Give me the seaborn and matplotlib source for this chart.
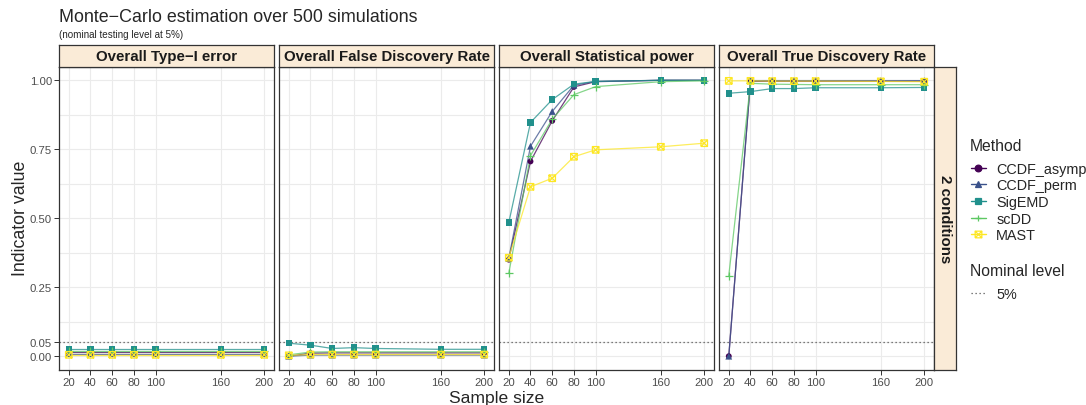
import numpy as np
import pandas as pd
import seaborn as sns
import matplotlib.pyplot as plt
from matplotlib.lines import Line2D
from matplotlib.path import Path

# ------------------------------------------------------------
# data
# ------------------------------------------------------------
sample_sizes = [20, 40, 60, 80, 100, 160, 200]
methods = ["CCDF_asymp", "CCDF_perm", "SigEMD", "scDD", "MAST"]
indicators = ["Overall Type\u2212I error", "Overall False Discovery Rate",
              "Overall Statistical power", "Overall True Discovery Rate"]

type1_asymp = [0.014, 0.014, 0.014, 0.014, 0.014, 0.014, 0.014]
type1_perm = [0.009, 0.009, 0.009, 0.009, 0.009, 0.009, 0.009]
type1_sigemd = [0.025, 0.025, 0.025, 0.025, 0.025, 0.025, 0.025]
type1_scdd = [0.019, 0.019, 0.019, 0.019, 0.019, 0.019, 0.019]
type1_mast = [0.005, 0.005, 0.005, 0.005, 0.005, 0.005, 0.005]

fdr_asymp = [0.000, 0.011, 0.012, 0.012, 0.012, 0.012, 0.012]
fdr_perm = [0.000, 0.004, 0.004, 0.004, 0.004, 0.004, 0.004]
fdr_sigemd = [0.047, 0.040, 0.028, 0.031, 0.028, 0.025, 0.025]
fdr_scdd = [0.005, 0.015, 0.016, 0.016, 0.016, 0.016, 0.016]
fdr_mast = [0.003, 0.006, 0.006, 0.006, 0.006, 0.006, 0.006]

power_asymp = [0.350, 0.706, 0.853, 0.976, 0.995, 1.000, 1.000]
power_perm = [0.354, 0.761, 0.887, 0.982, 0.996, 1.000, 1.000]
power_sigemd = [0.484, 0.847, 0.930, 0.986, 0.996, 1.000, 1.000]
power_scdd = [0.300, 0.727, 0.859, 0.948, 0.977, 0.995, 0.998]
power_mast = [0.357, 0.614, 0.645, 0.723, 0.748, 0.759, 0.772]

tdr_asymp = [0.000, 0.996, 0.996, 0.996, 0.996, 0.996, 0.996]
tdr_perm = [0.000, 0.999, 0.999, 0.999, 0.999, 0.999, 0.999]
tdr_sigemd = [0.953, 0.959, 0.970, 0.970, 0.973, 0.973, 0.974]
tdr_scdd = [0.292, 0.989, 0.986, 0.985, 0.984, 0.984, 0.984]
tdr_mast = [0.998, 0.998, 0.997, 0.997, 0.997, 0.996, 0.995]

nominal_level = 0.05

values = {
    indicators[0]: [type1_asymp, type1_perm, type1_sigemd, type1_scdd, type1_mast],
    indicators[1]: [fdr_asymp, fdr_perm, fdr_sigemd, fdr_scdd, fdr_mast],
    indicators[2]: [power_asymp, power_perm, power_sigemd, power_scdd, power_mast],
    indicators[3]: [tdr_asymp, tdr_perm, tdr_sigemd, tdr_scdd, tdr_mast],
}

rows = []
for ind in indicators:
    for m, vals in zip(methods, values[ind]):
        for n, v in zip(sample_sizes, vals):
            rows.append({"Indicator": ind, "Method": m, "n": n, "value": v})
df = pd.DataFrame(rows)

# ------------------------------------------------------------
# styles
# ------------------------------------------------------------
colors = dict(zip(methods, ["#440154", "#3B528B", "#21908C", "#5DC863", "#FDE725"]))
sq_cross = Path([(-1, -1), (1, -1), (1, 1), (-1, 1), (-1, -1),
                 (-1, -1), (1, 1), (-1, 1), (1, -1)],
                [Path.MOVETO, Path.LINETO, Path.LINETO, Path.LINETO, Path.LINETO,
                 Path.MOVETO, Path.LINETO, Path.MOVETO, Path.LINETO])
markers = dict(zip(methods, ["o", "^", "s", "+", sq_cross]))
msize = {"CCDF_asymp": 18, "CCDF_perm": 24, "SigEMD": 22, "scDD": 40, "MAST": 22}

sns.set_style("white")
plt.rcParams["font.family"] = ["Liberation Sans", "DejaVu Sans"]

W, H = 1086, 406
fig = plt.figure(figsize=(W / 100, H / 100), dpi=100)


def rect(x0, y0, x1, y1):
    return [x0 / W, 1 - y1 / H, (x1 - x0) / W, (y1 - y0) / H]


STRIP_BG = "#FAEBD7"
EDGE = "#333333"
DOTS = (0, (1, 2.2))
panel_x = [59, 279, 499, 719]
pw = 215
top, bottom = 67.5, 371

yticks = [0, 0.05, 0.25, 0.5, 0.75, 1.0]
yminor = [0.125, 0.375, 0.625, 0.875]

for i, ind in enumerate(indicators):
    x0 = panel_x[i]
    ax = fig.add_axes(rect(x0, top, x0 + pw, bottom))
    sub = df[df["Indicator"] == ind]

    for y in yticks + yminor:
        ax.axhline(y, color="#EBEBEB", lw=0.8, zorder=0)
    for x in sample_sizes:
        ax.axvline(x, color="#EBEBEB", lw=0.8, zorder=0)

    ax.axhline(nominal_level, color="#555555", lw=0.9, ls=DOTS, zorder=1)

    for m in methods:
        d = sub[sub["Method"] == m]
        sns.lineplot(data=d, x="n", y="value", color=colors[m], alpha=0.75,
                     lw=0.9, ax=ax, zorder=2)
    for m in methods:
        d = sub[sub["Method"] == m]
        if m == "MAST":
            sns.scatterplot(data=d, x="n", y="value", marker=markers[m], s=msize[m],
                            color=colors[m], facecolor="none", edgecolor=colors[m],
                            linewidth=0.9, ax=ax, zorder=3)
        elif m == "scDD":
            sns.scatterplot(data=d, x="n", y="value", marker=markers[m], s=msize[m],
                            color=colors[m], linewidth=0.9, ax=ax, zorder=3)
        else:
            sns.scatterplot(data=d, x="n", y="value", marker=markers[m], s=msize[m],
                            color=colors[m], edgecolor="none", linewidth=0,
                            ax=ax, zorder=3)

    ax.set_xlim(11, 209)
    ax.set_ylim(-0.05, 1.05)
    ax.set_xticks(sample_sizes)
    ax.set_xticklabels([str(s) for s in sample_sizes])
    ax.set_yticks(yticks)
    if i == 0:
        ax.set_yticklabels(["0.00", "0.05", "0.25", "0.50", "0.75", "1.00"])
        ax.tick_params(axis="y", length=3.5, width=0.7, color=EDGE,
                       labelsize=8.2, labelcolor="#4D4D4D", pad=1.5, left=True)
    else:
        ax.set_yticklabels([])
        ax.tick_params(axis="y", left=False)
    ax.tick_params(axis="x", length=3.5, width=0.7, color=EDGE, bottom=True,
                   labelsize=8.2, labelcolor="#4D4D4D", pad=1.5)
    ax.set_xlabel("")
    ax.set_ylabel("")
    for sp in ax.spines.values():
        sp.set_color(EDGE)
        sp.set_linewidth(0.9)

    # top strip
    sax = fig.add_axes(rect(x0, 45.5, x0 + pw, top))
    sax.set_facecolor(STRIP_BG)
    sax.set_xticks([])
    sax.set_yticks([])
    for sp in sax.spines.values():
        sp.set_color(EDGE)
        sp.set_linewidth(0.9)
    sax.text(0.5, 0.47, ind, ha="center", va="center", fontsize=10.8,
             fontweight="bold", color="#1A1A1A", transform=sax.transAxes)

# right strip
rax = fig.add_axes(rect(934, top, 956, bottom))
rax.set_facecolor(STRIP_BG)
rax.set_xticks([])
rax.set_yticks([])
for sp in rax.spines.values():
    sp.set_color(EDGE)
    sp.set_linewidth(0.9)
rax.text(0.5, 0.5, "2 conditions", ha="center", va="center", rotation=270,
         fontsize=10.8, fontweight="bold", color="#1A1A1A", transform=rax.transAxes)

# titles
fig.text(59 / W, 1 - 18 / H, "Monte\u2212Carlo estimation over 500 simulations",
         fontsize=12.9, ha="left", va="center")
fig.text(59 / W, 1 - 35 / H, "(nominal testing level at 5%)",
         fontsize=7.1, ha="left", va="center")
fig.text(497 / W, 1 - 398.5 / H, "Sample size", fontsize=12.6, ha="center", va="center")
fig.text(21 / W, 1 - 218 / H, "Indicator value", fontsize=12.8, ha="center",
         va="center", rotation=90)

# legends (titles drawn as plain text for exact spacing)
handles = []
for m in methods:
    mfc = "none" if m == "MAST" else colors[m]
    handles.append(Line2D([], [], color=colors[m], marker=markers[m], lw=1,
                          markersize=4.8, mfc=mfc, mec=colors[m], mew=0.9))
fig.text(970 / W, 1 - 147 / H, "Method", fontsize=11.3, ha="left", va="center")
fig.legend(handles, methods, loc="upper left",
           bbox_to_anchor=(965 / W, 1 - 157 / H), frameon=False,
           fontsize=10.4, handlelength=1.05, handletextpad=0.7,
           labelspacing=0.18, borderaxespad=0)
fig.text(970 / W, 1 - 271 / H, "Nominal level", fontsize=11.3, ha="left", va="center")
fig.legend([Line2D([], [], color="#555555", lw=0.9, ls=DOTS)],
           ["5%"], loc="upper left",
           bbox_to_anchor=(965 / W, 1 - 282 / H), frameon=False,
           fontsize=10.4, handlelength=1.05, handletextpad=0.7,
           borderaxespad=0)

fig.savefig("out.png", dpi=100)
